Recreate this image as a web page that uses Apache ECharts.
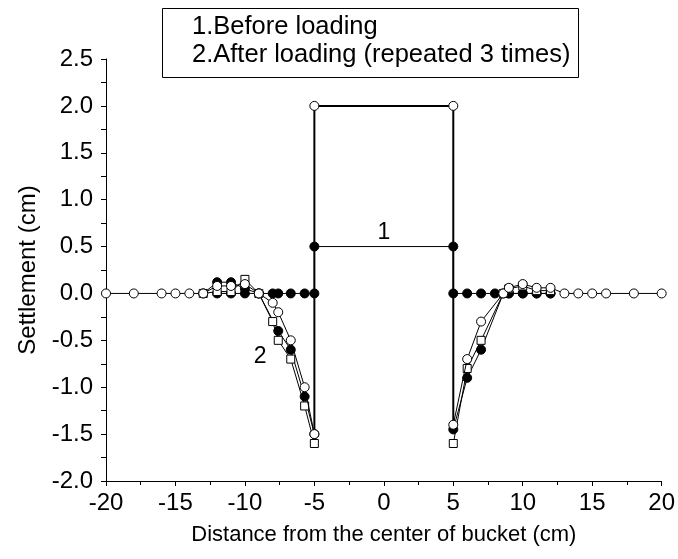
<!DOCTYPE html>
<html><head><meta charset="utf-8">
<script src="https://cdn.jsdelivr.net/npm/echarts@6/dist/echarts.min.js"></script>
<style>html,body{margin:0;padding:0;background:#fff}#c{width:678px;height:559px}</style>
</head><body><div id="c"></div>
<script>
// ---- data ----
const xTicks = [-20, -15, -10, -5, 0, 5, 10, 15, 20];
const yTicks = [-2.0, -1.5, -1.0, -0.5, 0.0, 0.5, 1.0, 1.5, 2.0, 2.5];
const legendLines = ['1.Before loading', '2.After loading (repeated 3 times)'];

// 1. Before loading (filled circles)
const beforeX = [-12, -11, -10, -9, -8, -7.6, -6.7, -5.7, -5, -5, 5, 5, 6, 7, 8, 9, 10, 11, 12];
const beforeY = [0, 0, 0, 0, 0, 0, 0, 0, 0, 0.5, 0.5, 0, 0, 0, 0, 0, 0, 0, 0];

// bucket outline
const bucketX = [-5, -5, 5, 5];
const bucketY = [-1.5, 2.0, 2.0, -1.4];

// 2. After loading, run a (open circles)
const afterAX = [-20, -18, -16, -15, -14, -13, -12, -11, -10, -9, -8, -7.6, -6.7, -5.7, -5, null, 5, 6, 7, 8.6, 9, 10, 11, 12, 13, 14, 15, 16, 18, 20];
const afterAY = [0, 0, 0, 0, 0, 0, 0.08, 0.08, 0.1, 0, -0.1, -0.2, -0.5, -1.0, -1.5, null, -1.4, -0.7, -0.3, 0, 0.06, 0.1, 0.06, 0.06, 0, 0, 0, 0, 0, 0];
// run b (filled circles)
const afterBX = [-13, -12, -11, -10, -9, -7.6, -6.7, -5.7, -5, null, 5, 6, 7, 8.6, 9, 10, 11, 12];
const afterBY = [0, 0.12, 0.12, 0.05, 0, -0.4, -0.6, -1.1, -1.5, null, -1.45, -0.9, -0.6, 0, 0, 0, 0, 0];
// run c (open squares)
const afterCX = [-13, -12, -11, -10, -9, -8, -7.6, -6.7, -5.7, -5, null, 5, 6, 7, 8.6, 9, 10, 11, 12];
const afterCY = [0, 0.02, 0.02, 0.15, 0, -0.3, -0.5, -0.7, -1.2, -1.6, null, -1.6, -0.8, -0.5, 0, 0.05, 0.08, 0.03, 0.03];

// curve labels
const curveLabels = [{ text: '1', x: 0, y: 0.65 }, { text: '2', x: -8.9, y: -0.67 }];

// ---- chart ----
const FONT = 'Liberation Sans, Arial, sans-serif';
const pair = (xs, ys) => xs.map((x, i) => (x === null ? [null, null] : [x, ys[i]]));
const chart = echarts.init(document.getElementById('c'), null, { renderer: 'canvas' });

const lineBase = (name, xs, ys, symbol, fill, z) => ({
  name, type: 'line', data: pair(xs, ys), symbol, symbolSize: symbol === 'rect' ? 8 : 9,
  showAllSymbol: true, connectNulls: false, z,
  lineStyle: { color: '#000', width: 1 },
  itemStyle: { color: fill, borderColor: '#000', borderWidth: 1 },
  emphasis: { disabled: true }, animation: false
});

chart.setOption({
  animation: false,
  grid: { left: 106, right: 11, top: 59, bottom: 78, containLabel: false },
  xAxis: {
    type: 'value', min: xTicks[0], max: xTicks[xTicks.length - 1], interval: 5,
    name: 'Distance from the center of bucket (cm)', nameLocation: 'middle', nameGap: 43,
    nameTextStyle: { fontFamily: FONT, fontSize: 22, color: '#000' },
    axisLine: { onZero: false, lineStyle: { color: '#000', width: 1 } },
    axisTick: { inside: false, length: 5, lineStyle: { color: '#000' } },
    minorTick: { show: true, splitNumber: 2, length: 4, lineStyle: { color: '#000' } },
    axisLabel: { fontFamily: FONT, fontSize: 24, color: '#000', margin: 10 },
    splitLine: { show: false }
  },
  yAxis: {
    type: 'value', min: yTicks[0], max: yTicks[yTicks.length - 1], interval: 0.5,
    name: 'Settlement (cm)', nameLocation: 'middle', nameGap: 66, nameRotate: 90,
    nameTextStyle: { fontFamily: FONT, fontSize: 24, color: '#000' },
    axisLine: { onZero: false, lineStyle: { color: '#000', width: 1 } },
    axisTick: { inside: false, length: 5, lineStyle: { color: '#000' } },
    minorTick: { show: true, splitNumber: 2, length: 5, lineStyle: { color: '#000' } },
    axisLabel: { fontFamily: FONT, fontSize: 24, color: '#000', margin: 13, formatter: v => v.toFixed(1) },
    splitLine: { show: false }
  },
  series: [
    Object.assign(lineBase('bucket', bucketX, bucketY, 'none', '#fff', 2), {
      data: pair(bucketX, bucketY).map((p, i) => ({ value: p, symbol: (i === 1 || i === 2) ? 'circle' : 'none' })),
      symbol: 'circle', lineStyle: { color: '#000', width: 2 }
    }),
    lineBase(legendLines[0], beforeX, beforeY, 'circle', '#000', 3),
    lineBase('after b', afterBX, afterBY, 'circle', '#000', 4),
    lineBase('after c', afterCX, afterCY, 'rect', '#fff', 5),
    lineBase('after a', afterAX, afterAY, 'circle', '#fff', 6),
    {
      type: 'scatter', symbolSize: 1, z: 10, silent: true,
      itemStyle: { opacity: 1, color: 'rgba(0,0,0,0)' },
      data: curveLabels.map(d => ({ value: [d.x, d.y], label: { show: true, formatter: d.text, color: '#000' } })),
      label: { position: 'inside', fontFamily: FONT, fontSize: 23, color: '#000', opacity: 1 }
    }
  ],
  graphic: [
    { type: 'rect', left: 162, top: 8, shape: { width: 416, height: 69 }, style: { fill: '#fff', stroke: '#000', lineWidth: 1 }, z: 20 },
    { type: 'text', left: 192, top: 14, style: { text: legendLines[0], font: '25.5px ' + FONT, fill: '#000' }, z: 21 },
    { type: 'text', left: 192, top: 42, style: { text: legendLines[1], font: '25.5px ' + FONT, fill: '#000' }, z: 21 }
  ]
});
</script></body></html>
